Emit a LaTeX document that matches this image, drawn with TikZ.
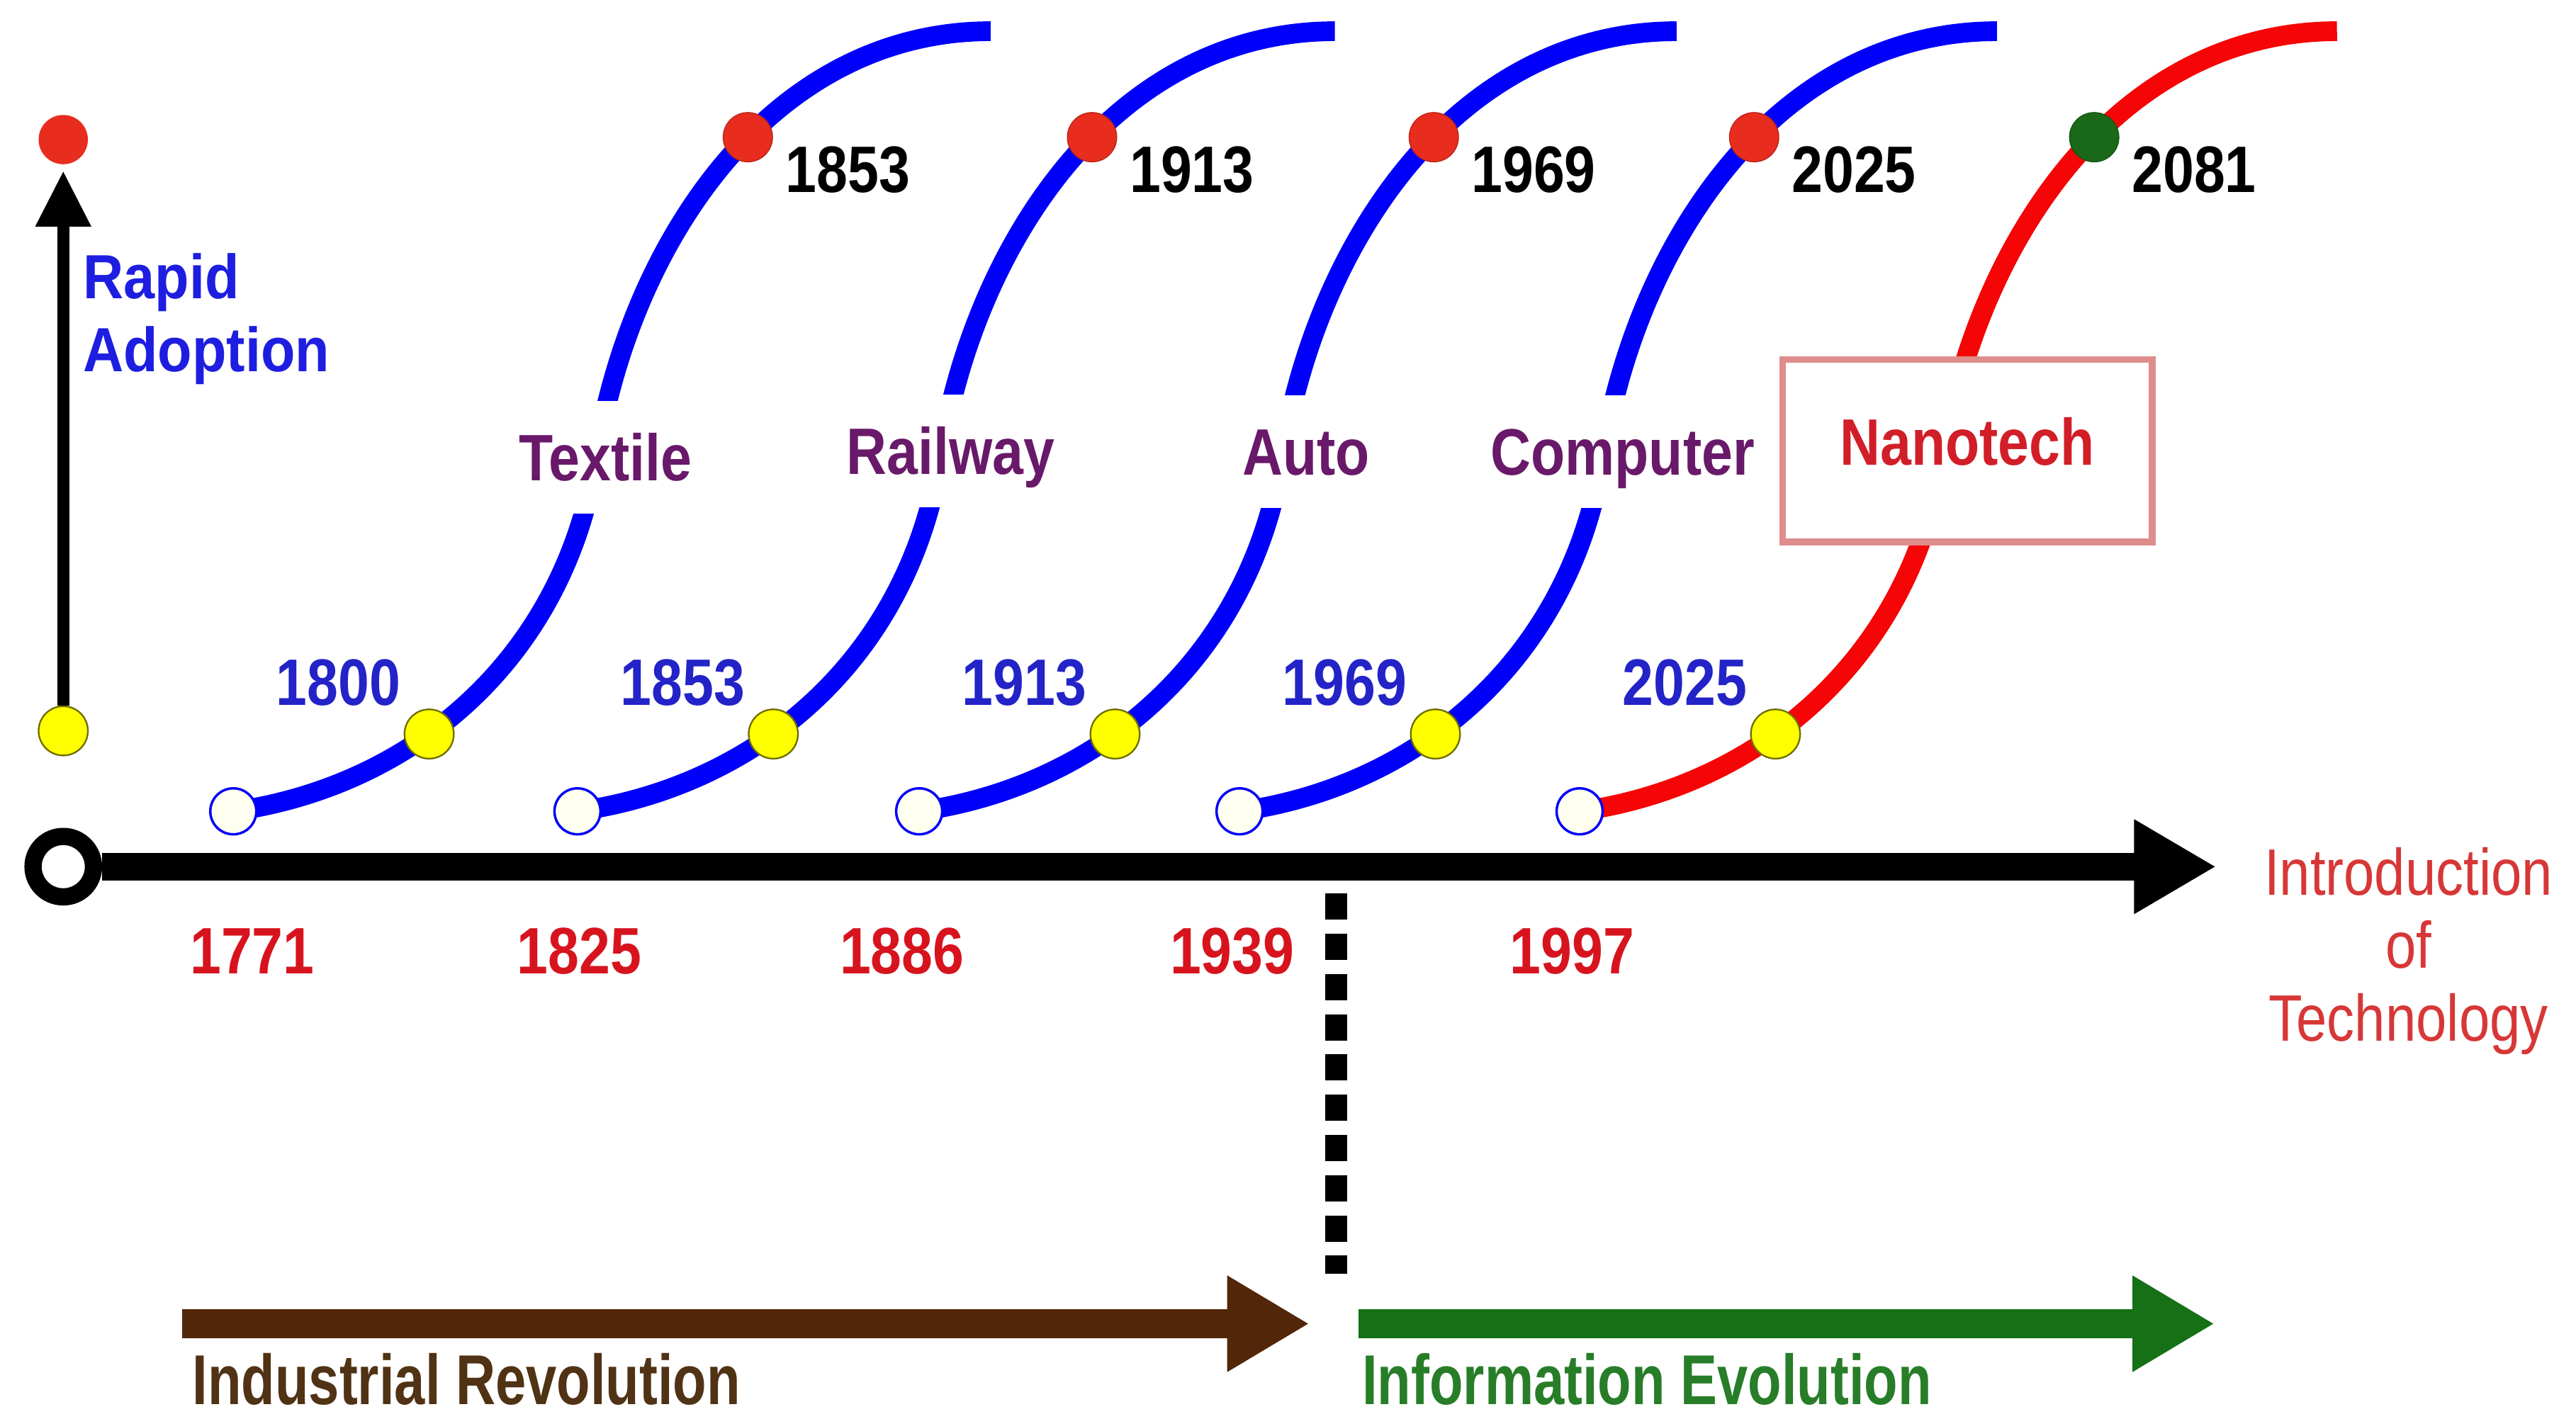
\documentclass[tikz,border=0pt]{standalone}
\usepackage{fontspec}
\setmainfont{Liberation Sans}[FakeStretch=0.85]
\newfontfamily\regfont{Liberation Sans}[FakeStretch=0.84]
\newfontfamily\widefont{Liberation Sans}[FakeStretch=0.78]
\newfontfamily\adoptfont{Liberation Sans}[FakeStretch=0.9]
\usetikzlibrary{arrows.meta}
\definecolor{curveblue}{RGB}{0,0,250}
\definecolor{curvered}{RGB}{245,5,5}
\definecolor{dotred}{RGB}{232,45,30}
\definecolor{dotgreen}{RGB}{25,105,25}
\definecolor{dotyellow}{RGB}{255,255,0}
\definecolor{yellowrim}{RGB}{110,110,0}
\definecolor{adoptblue}{RGB}{30,30,225}
\definecolor{yearblue}{RGB}{35,35,200}
\definecolor{labpurple}{RGB}{105,25,105}
\definecolor{yearred}{RGB}{215,20,30}
\definecolor{nanored}{RGB}{210,30,40}
\definecolor{nanobox}{RGB}{222,140,140}
\definecolor{introred}{RGB}{215,55,55}
\definecolor{brownarrow}{RGB}{82,38,8}
\definecolor{browntext}{RGB}{80,50,20}
\definecolor{greenarrow}{RGB}{22,112,22}
\definecolor{greentext}{RGB}{40,125,40}
\definecolor{ivory}{RGB}{255,255,240}
\begin{document}
\begin{tikzpicture}[x=1pt,y=1pt,
  txt/.style={inner sep=0pt, text height=28.6pt, text depth=0pt,
    font=\fontsize{40}{44.6}\selectfont\bfseries},
  lab/.style={txt, fill=white, inner xsep=4pt, inner ysep=20pt, text=labpurple},
  dotnode/.style={circle, inner sep=0pt, minimum size=30pt, line width=1pt},
  opendot/.style={circle, draw=curveblue, line width=1.5pt, fill=ivory,
    inner sep=0pt, minimum size=28pt},
  curve/.style={line width=12pt},
  bigarrow/.style={line width=17.5pt, -{Triangle[width=55pt,length=50pt]}},
  eratext/.style={inner sep=0pt, anchor=base west,
    font=\widefont\fontsize{43}{48}\selectfont\bfseries}]
\useasboundingbox[fill=white] (0,0) rectangle (1568,-864);

% main axis
\node[circle, draw=black, line width=10.5pt, fill=white, inner sep=0pt,
  minimum size=36.8pt] (orig) at (38.5,-527.7) {};
\coordinate (axend) at (1349,-527.7);
\draw[bigarrow, line width=17pt, -{Triangle[width=54pt,length=50pt]}] (orig) -- (axend);

% vertical adoption arrow
\node[dotnode, fill=dotyellow, draw=yellowrim] (vy) at (38.5,-445) {};
\node[dotnode, fill=dotred] (vr) at (38.5,-85) {};
\draw[line width=7.3pt, -{Triangle[width=32pt,length=34pt]}, shorten >=3.5pt] (vy) -- (vr);
\node[inner sep=0pt, anchor=north west, align=left, text=adoptblue,
  font=\adoptfont\fontsize{38}{44.6}\selectfont\bfseries] (adopt) at (50.4,-154) {Rapid\\Adoption};

% divider
\coordinate (dtop) at (813.3,-544);
\coordinate (dbot) at (813.3,-775.7);
\draw[line width=13pt, dash pattern=on 16pt off 8.5pt] (dtop) -- (dbot);

% era arrows
\coordinate (ir0) at (111,-806);
\coordinate (ir1) at (797,-806);
\coordinate (ie0) at (827,-806);
\coordinate (ie1) at (1348,-806);
\draw[bigarrow, brownarrow] (ir0) -- (ir1);
\draw[bigarrow, greenarrow] (ie0) -- (ie1);
\node[eratext, text=browntext] (irl) at (117,-855) {Industrial Revolution};
\node[eratext, text=greentext] (iel) at (829,-855) {Information Evolution};

% axis years
\node[txt, text=yearred] (y1771) at (153.5,-578.4) {1771};
\node[txt, text=yearred] (y1825) at (352.7,-578.4) {1825};
\node[txt, text=yearred] (y1886) at (549,-578.4) {1886};
\node[txt, text=yearred] (y1939) at (750,-578.4) {1939};
\node[txt, text=yearred] (y1997) at (957,-578.4) {1997};

\node[inner sep=0pt, anchor=north, align=center, text=introred,
  font=\regfont\fontsize{40}{44.5}\selectfont] (intro) at (1466,-515.8)
  {Introduction\\of\\Technology};

% S-curves
\foreach \xo/\col/\yb/\yt/\nm in {
  142/curveblue/1800/1853/a,
  351.5/curveblue/1853/1913/b,
  559.5/curveblue/1913/1969/c,
  754.5/curveblue/1969/2025/d,
  961.5/curvered/2025/2081/e}{
  \begin{scope}[shift={(\xo,-494)}]
    \coordinate (c\nm) at (0,0);
    \draw[curve, \col] (c\nm) .. controls (108.9,15.3) and (201.5,92.5) .. (221,216)
      coordinate[pos=0.4] (yp\nm)
      .. controls (241.3,344.4) and (326,475) .. (461,475)
      coordinate[pos=0.56] (rp\nm) coordinate (top\nm);
    \node[txt, text=yearblue] (yb\nm) at (64,79) {\yb};
    \node[txt, text=black] (yt\nm) at (374,391) {\yt};
  \end{scope}
}

% curve labels
\node[lab] (ltex) at (368.5,-278.3) {Textile};
\node[lab] (lrail) at (578.6,-274.5) {Railway};
\node[lab] (lauto) at (795,-275) {Auto};
\node[lab] (lcomp) at (987.7,-275) {Computer};
\node[draw=nanobox, line width=4pt, fill=white, inner sep=0pt,
  minimum width=225pt, minimum height=111pt, text height=28.6pt, text depth=11pt,
  text=nanored, font=\fontsize{40}{44.6}\selectfont\bfseries] (lnano) at (1197.5,-274.5) {Nanotech};

% dots
\foreach \dc/\nm in {dotred/a, dotred/b, dotred/c, dotred/d, dotgreen/e}{
  \node[dotnode, fill=dotyellow, draw=yellowrim] (y\nm) at (yp\nm) {};
  \node[dotnode, fill=\dc, draw=\dc!80!black, line width=0.6pt] (r\nm) at (rp\nm) {};
  \node[opendot] (o\nm) at (c\nm) {};
}
\end{tikzpicture}
\end{document}
